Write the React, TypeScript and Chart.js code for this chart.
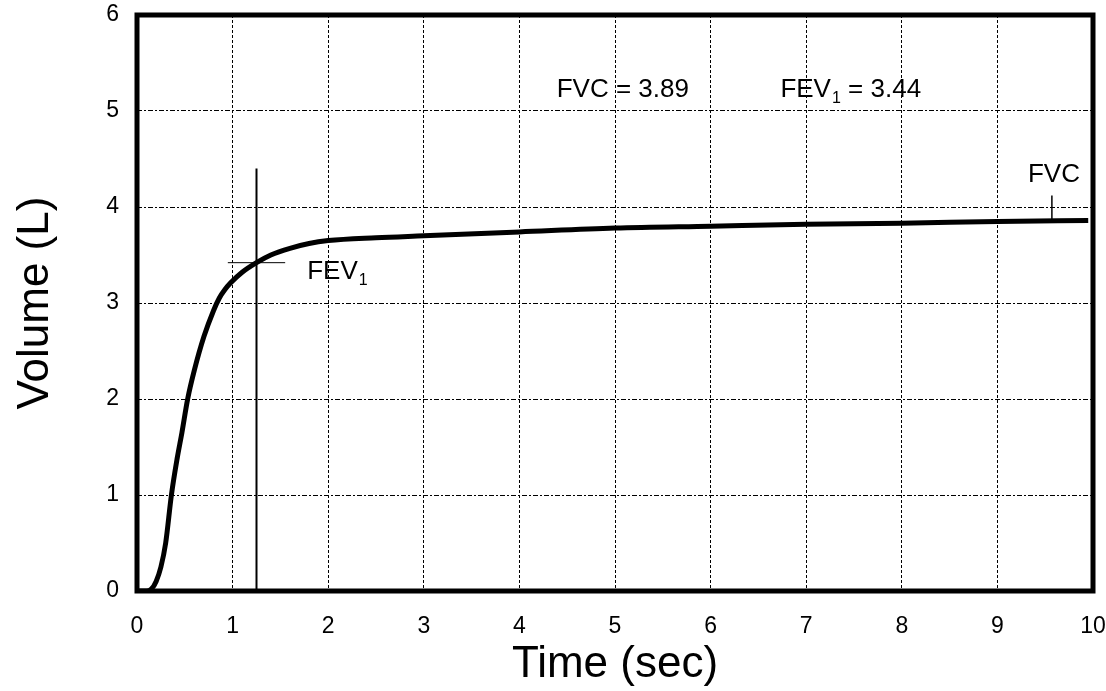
import React, { useEffect, useRef } from "react";
import { Chart, registerables } from "chart.js";

Chart.register(...registerables);

// Spirometry volume-time curve
const timeSec = [0, 0.1, 0.15, 0.2, 0.25, 0.3, 0.36, 0.42, 0.47, 0.53, 0.6, 0.7, 0.8, 0.86, 0.92, 0.98, 1.1, 1.25, 1.4, 1.6, 1.8, 2.0, 2.5, 3, 4, 5, 6, 7, 8, 9, 9.95];
const volumeL = [0, 0, 0.02, 0.1, 0.25, 0.5, 1.0, 1.38, 1.65, 2.0, 2.3, 2.65, 2.92, 3.05, 3.14, 3.21, 3.32, 3.42, 3.5, 3.57, 3.62, 3.65, 3.68, 3.7, 3.74, 3.78, 3.8, 3.82, 3.83, 3.85, 3.86];

const xTicks = [0, 1, 2, 3, 4, 5, 6, 7, 8, 9, 10];
const yTicks = [0, 1, 2, 3, 4, 5, 6];

// FEV1 marker lines and FVC tick (data coordinates)
const fev1LineX = [1.25, 1.25];
const fev1LineY = [0, 4.4];
const fev1TickX = [0.95, 1.55];
const fev1TickY = [3.42, 3.42];
const fvcTickX = [9.57, 9.57];
const fvcTickY = [3.86, 4.12];

// Text annotations
const annTexts = ["FVC = 3.89", "FEV", "FEV", "FVC"];
const annSubs = ["", "1", "1", ""];
const annRest = ["", " = 3.44", "", ""];
const annX = [4.39, 6.73, 1.78, 9.32];
const annY = [5.15, 5.15, 3.25, 4.26];

const FONT = "'Liberation Sans', Arial, Helvetica, sans-serif";

const toPts = (xs: number[], ys: number[]) => xs.map((x, i) => ({ x, y: ys[i] }));

const framePlugin = {
  id: "frameAndText",
  afterDraw(chart: any) {
    const { ctx, chartArea, scales } = chart;
    ctx.save();
    ctx.strokeStyle = "#000";
    ctx.lineWidth = 5;
    ctx.setLineDash([]);
    ctx.strokeRect(chartArea.left, chartArea.top, chartArea.right - chartArea.left, chartArea.bottom - chartArea.top);
    ctx.fillStyle = "#000";
    ctx.textBaseline = "alphabetic";
    ctx.textAlign = "left";
    for (let i = 0; i < annTexts.length; i++) {
      let px = scales.x.getPixelForValue(annX[i]);
      const py = scales.y.getPixelForValue(annY[i]);
      ctx.font = `26px ${FONT}`;
      ctx.fillText(annTexts[i], px, py);
      px += ctx.measureText(annTexts[i]).width;
      if (annSubs[i]) {
        ctx.font = `16px ${FONT}`;
        ctx.fillText(annSubs[i], px + 1, py + 6);
        px += ctx.measureText(annSubs[i]).width + 1;
      }
      if (annRest[i]) {
        ctx.font = `26px ${FONT}`;
        ctx.fillText(annRest[i], px, py);
      }
    }
    ctx.restore();
  },
};

export default function App() {
  const ref = useRef<HTMLCanvasElement>(null);
  useEffect(() => {
    if (!ref.current) return;
    const chart = new Chart(ref.current, {
      type: "line",
      data: {
        datasets: [
          {
            data: toPts(timeSec, volumeL),
            borderColor: "#000",
            borderWidth: 5,
            pointRadius: 0,
            cubicInterpolationMode: "monotone",
            fill: false,
          },
          {
            data: toPts(fev1LineX, fev1LineY),
            borderColor: "#000",
            borderWidth: 2,
            pointRadius: 0,
          },
          {
            data: toPts(fev1TickX, fev1TickY),
            borderColor: "#000",
            borderWidth: 1,
            pointRadius: 0,
          },
          {
            data: toPts(fvcTickX, fvcTickY),
            borderColor: "#000",
            borderWidth: 1.5,
            pointRadius: 0,
          },
        ],
      } as any,
      options: {
        animation: false,
        responsive: false,
        maintainAspectRatio: false,
        layout: { padding: { top: 15, right: 13, left: 0, bottom: 0 } },
        plugins: { legend: { display: false }, tooltip: { enabled: false } },
        scales: {
          x: {
            type: "linear",
            min: 0,
            max: 10,
            afterBuildTicks: (s: any) => {
              s.ticks = xTicks.map((v) => ({ value: v }));
            },
            afterFit: (s: any) => {
              s.height = 100;
              s.paddingLeft = 0;
              s.paddingRight = 0;
            },
            ticks: {
              color: "#000",
              font: { family: FONT, size: 23 },
              padding: 22,
              maxRotation: 0,
              autoSkip: false,
            },
            grid: { color: "#000", lineWidth: 1, drawTicks: false },
            border: { display: false, dash: [3, 2] },
            title: {
              display: true,
              text: "Time (sec)",
              color: "#000",
              font: { family: FONT, size: 44 },
              padding: { top: 0, bottom: 0 },
            },
          },
          y: {
            type: "linear",
            min: 0,
            max: 6,
            afterBuildTicks: (s: any) => {
              s.ticks = yTicks.map((v) => ({ value: v }));
            },
            afterFit: (s: any) => {
              s.width = 137;
              s.paddingTop = 0;
              s.paddingBottom = 0;
            },
            ticks: {
              color: "#000",
              font: { family: FONT, size: 23 },
              padding: 18,
              autoSkip: false,
            },
            grid: { color: "#000", lineWidth: 1, drawTicks: false },
            border: { display: false, dash: [5, 2, 2, 2] },
            title: {
              display: true,
              text: "Volume (L)",
              color: "#000",
              font: { family: FONT, size: 44 },
              padding: { top: 9, bottom: 0 },
            },
          },
        },
      } as any,
      plugins: [framePlugin],
    });
    return () => chart.destroy();
  }, []);
  return (
    <div style={{ position: "fixed", left: 0, top: 0, width: 1106, height: 691, background: "#fff" }}>
      <canvas ref={ref} width={1106} height={691} style={{ width: 1106, height: 691, display: "block" }} />
    </div>
  );
}
